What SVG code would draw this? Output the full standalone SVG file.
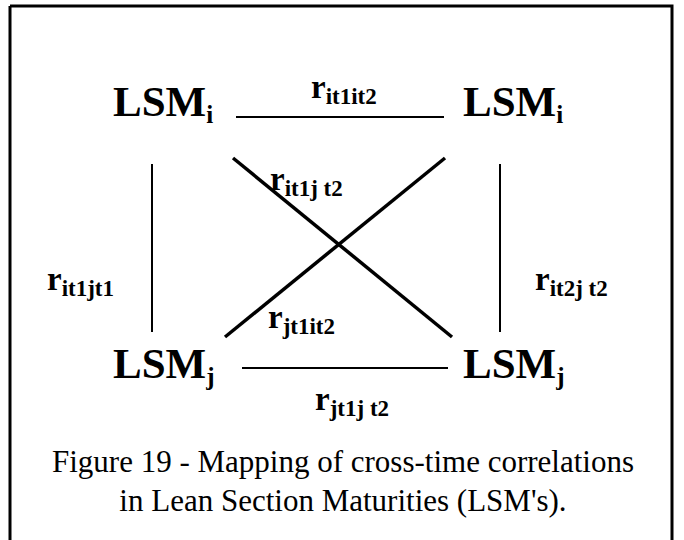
<svg xmlns="http://www.w3.org/2000/svg" width="684" height="540" viewBox="0 0 684 540">
<style>
.lsm{font-family:"Liberation Serif","Times New Roman",serif;font-weight:bold;font-size:43px;fill:#000}
.sub{font-size:25px}
.r{font-family:"Liberation Serif","Times New Roman",serif;font-weight:bold;font-size:33px;fill:#000}
.rs{font-size:23px}
.cap{font-family:"Liberation Serif","Times New Roman",serif;font-size:31px;fill:#000;text-anchor:middle}
.thin{stroke:#000;stroke-width:2;fill:none}
.thick{stroke:#000;stroke-width:3.5;fill:none}
</style>
<rect width="684" height="540" fill="#fff"/>
<path d="M10 6 H672 V545 M10 6 V545" stroke="#000" stroke-width="3" fill="none"/>
<g id="connectors">
<line class="thin" x1="236" y1="117" x2="444" y2="117"/>
<line class="thin" x1="242" y1="368" x2="448" y2="368"/>
<line class="thin" x1="152" y1="164" x2="152" y2="332"/>
<line class="thin" x1="500" y1="164" x2="500" y2="332"/>
<line class="thick" x1="233" y1="158" x2="452" y2="337"/>
<line class="thick" x1="445" y1="158" x2="225" y2="337"/>
</g>
<g id="lsm-i-t1"><text class="lsm" x="113" y="116">LSM<tspan class="sub" dy="7">i</tspan></text></g>
<g id="lsm-i-t2"><text class="lsm" x="463" y="116">LSM<tspan class="sub" dy="7">i</tspan></text></g>
<g id="lsm-j-t1"><text class="lsm" x="113" y="378">LSM<tspan class="sub" dy="7">j</tspan></text></g>
<g id="lsm-j-t2"><text class="lsm" x="463" y="378">LSM<tspan class="sub" dy="7">j</tspan></text></g>
<g id="labels">
<text class="r" x="311" y="98">r<tspan class="rs" dy="6">it1it2</tspan></text>
<text class="r" x="270" y="190">r<tspan class="rs" dy="6">it1j t2</tspan></text>
<text class="r" x="47" y="290">r<tspan class="rs" dy="6">it1jt1</tspan></text>
<text class="r" x="535" y="290">r<tspan class="rs" dy="6">it2j t2</tspan></text>
<text class="r" x="268" y="328">r<tspan class="rs" dy="6">jt1it2</tspan></text>
<text class="r" x="315" y="410">r<tspan class="rs" dy="6">jt1j t2</tspan></text>
</g>
<g id="caption">
<text class="cap" x="343" y="472">Figure 19 - Mapping of cross-time correlations</text>
<text class="cap" x="343" y="511">in Lean Section Maturities (LSM's).</text>
</g>
</svg>
